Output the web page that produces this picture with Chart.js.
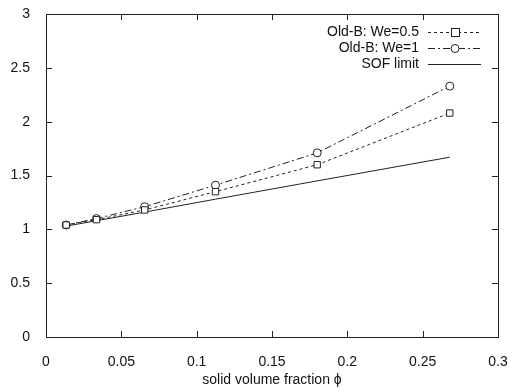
<!DOCTYPE html>
<html><head><meta charset="utf-8">
<script src="https://cdn.jsdelivr.net/npm/chart.js@4/dist/chart.umd.min.js"></script>
<style>html,body{margin:0;padding:0;background:#fff}#w{width:515px;height:392px}</style>
</head><body><div id="w"><canvas id="c" width="515" height="392"></canvas></div>
<script>
const phi = [0.0134, 0.0335, 0.0655, 0.1125, 0.18, 0.268];
const oldB_We05 = [1.04, 1.09, 1.18, 1.35, 1.60, 2.08];
const oldB_We1 = [1.04, 1.10, 1.21, 1.41, 1.71, 2.33];
const sofLimit = [1.03, 1.08, 1.16, 1.28, 1.45, 1.67];
const seriesNames = ['Old-B: We=0.5', 'Old-B: We=1', 'SOF limit'];
const xTicks = [0, 0.05, 0.1, 0.15, 0.2, 0.25, 0.3];
const yTicks = [0, 0.5, 1, 1.5, 2, 2.5, 3];
const xTitle = 'solid volume fraction \u03d5';

const FONT = 'Liberation Sans, Arial, sans-serif';
const COL = '#222';
const toXY = ys => phi.map((x,i)=>({x, y: ys[i]}));
const styles = [
  {dash:[3,3], marker:'rect'},
  {dash:[7,3,2,3], marker:'circle'},
  {dash:[], marker:false}
];

const legendPlugin = {
  id:'legendPlugin',
  afterDraw(chart){
    const ctx = chart.ctx;
    ctx.save();
    ctx.font = '14px "Liberation Sans", Arial, sans-serif';
    ctx.textAlign='right'; ctx.textBaseline='middle';
    ctx.strokeStyle = COL; ctx.lineWidth = 1;
    const tx = 419, lx0 = 428, lx1 = 481, rows = [32, 48, 64], mx = 455;
    seriesNames.forEach((n,i)=>{
      const yy = rows[i];
      ctx.fillStyle = '#111';
      ctx.fillText(n, tx, yy);
      ctx.setLineDash(styles[i].dash);
      ctx.beginPath(); ctx.moveTo(lx0, yy+0.5); ctx.lineTo(lx1, yy+0.5); ctx.stroke();
      ctx.setLineDash([]);
      if(styles[i].marker==='rect'){ctx.fillStyle='#fff';ctx.fillRect(mx-4,yy-4,8,8);ctx.strokeRect(mx-3.5,yy-3.5,8,8);}
      if(styles[i].marker==='circle'){ctx.fillStyle='#fff';ctx.beginPath();ctx.arc(mx,yy+0.5,4,0,Math.PI*2);ctx.fill();ctx.stroke();}
    });
    // frame and inward ticks, as thin filled rectangles
    const a = chart.chartArea, xs = chart.scales.x, ys = chart.scales.y;
    const l = Math.round(a.left), t = Math.round(a.top), r = Math.round(a.right), b = Math.round(a.bottom);
    ctx.fillStyle = COL;
    ctx.fillRect(l, t, r - l + 1, 1);
    ctx.fillRect(l, b, r - l + 1, 1);
    ctx.fillRect(l, t, 1, b - t + 1);
    ctx.fillRect(r, t, 1, b - t + 1);
    const L = 6;
    xTicks.forEach(v => {
      const p = Math.round(xs.getPixelForValue(v));
      ctx.fillRect(p, b - L, 1, L);
      ctx.fillRect(p, t, 1, L);
    });
    yTicks.forEach(v => {
      const p = Math.round(ys.getPixelForValue(v));
      ctx.fillRect(l, p, L, 1);
      ctx.fillRect(r - L, p, L, 1);
    });
    ctx.restore();
  }
};

const zeroPadY = s => { s.paddingTop = 0; s.paddingBottom = 0; };
const zeroPadX = s => { s.paddingLeft = 0; s.paddingRight = 0; };

new Chart(document.getElementById('c'), {
  type:'scatter',
  data:{datasets:[
    {label:seriesNames[0], data:toXY(oldB_We05), showLine:true, borderColor:COL, borderWidth:1, borderDash:styles[0].dash,
     pointStyle:'rect', pointRadius:4.5, pointBackgroundColor:'#fff', pointBorderColor:COL, pointBorderWidth:1},
    {label:seriesNames[1], data:toXY(oldB_We1), showLine:true, borderColor:COL, borderWidth:1, borderDash:styles[1].dash,
     pointStyle:'circle', pointRadius:4, pointBackgroundColor:'#fff', pointBorderColor:COL, pointBorderWidth:1},
    {label:seriesNames[2], data:toXY(sofLimit), showLine:true, borderColor:COL, borderWidth:1, pointRadius:0}
  ]},
  options:{
    responsive:false, animation:false,
    layout:{padding:{top:14, right:17, left:0, bottom:0}},
    plugins:{legend:{display:false}, tooltip:{enabled:false}},
    scales:{
      x:{type:'linear', position:'bottom', min:0, max:0.3,
         afterBuildTicks: s=>{s.ticks = xTicks.map(v=>({value:v}));},
         afterFit: s=>{s.height = 55; zeroPadX(s);},
         grid:{display:false}, border:{display:false},
         ticks:{color:'#111', font:{family:FONT, size:14}, padding:9, maxRotation:0,
                callback:v=>String(v)},
         title:{display:true, text:xTitle, color:'#111', font:{family:FONT, size:14}, padding:{top:0,bottom:3}}},
      y:{type:'linear', position:'left', min:0, max:3,
         afterBuildTicks: s=>{s.ticks = yTicks.map(v=>({value:v}));},
         afterFit: s=>{s.width = 46; zeroPadY(s);},
         grid:{display:false}, border:{display:false},
         ticks:{color:'#111', font:{family:FONT, size:14}, padding:8, callback:v=>String(v)}}
    }
  },
  plugins:[legendPlugin]
});
</script></body></html>
